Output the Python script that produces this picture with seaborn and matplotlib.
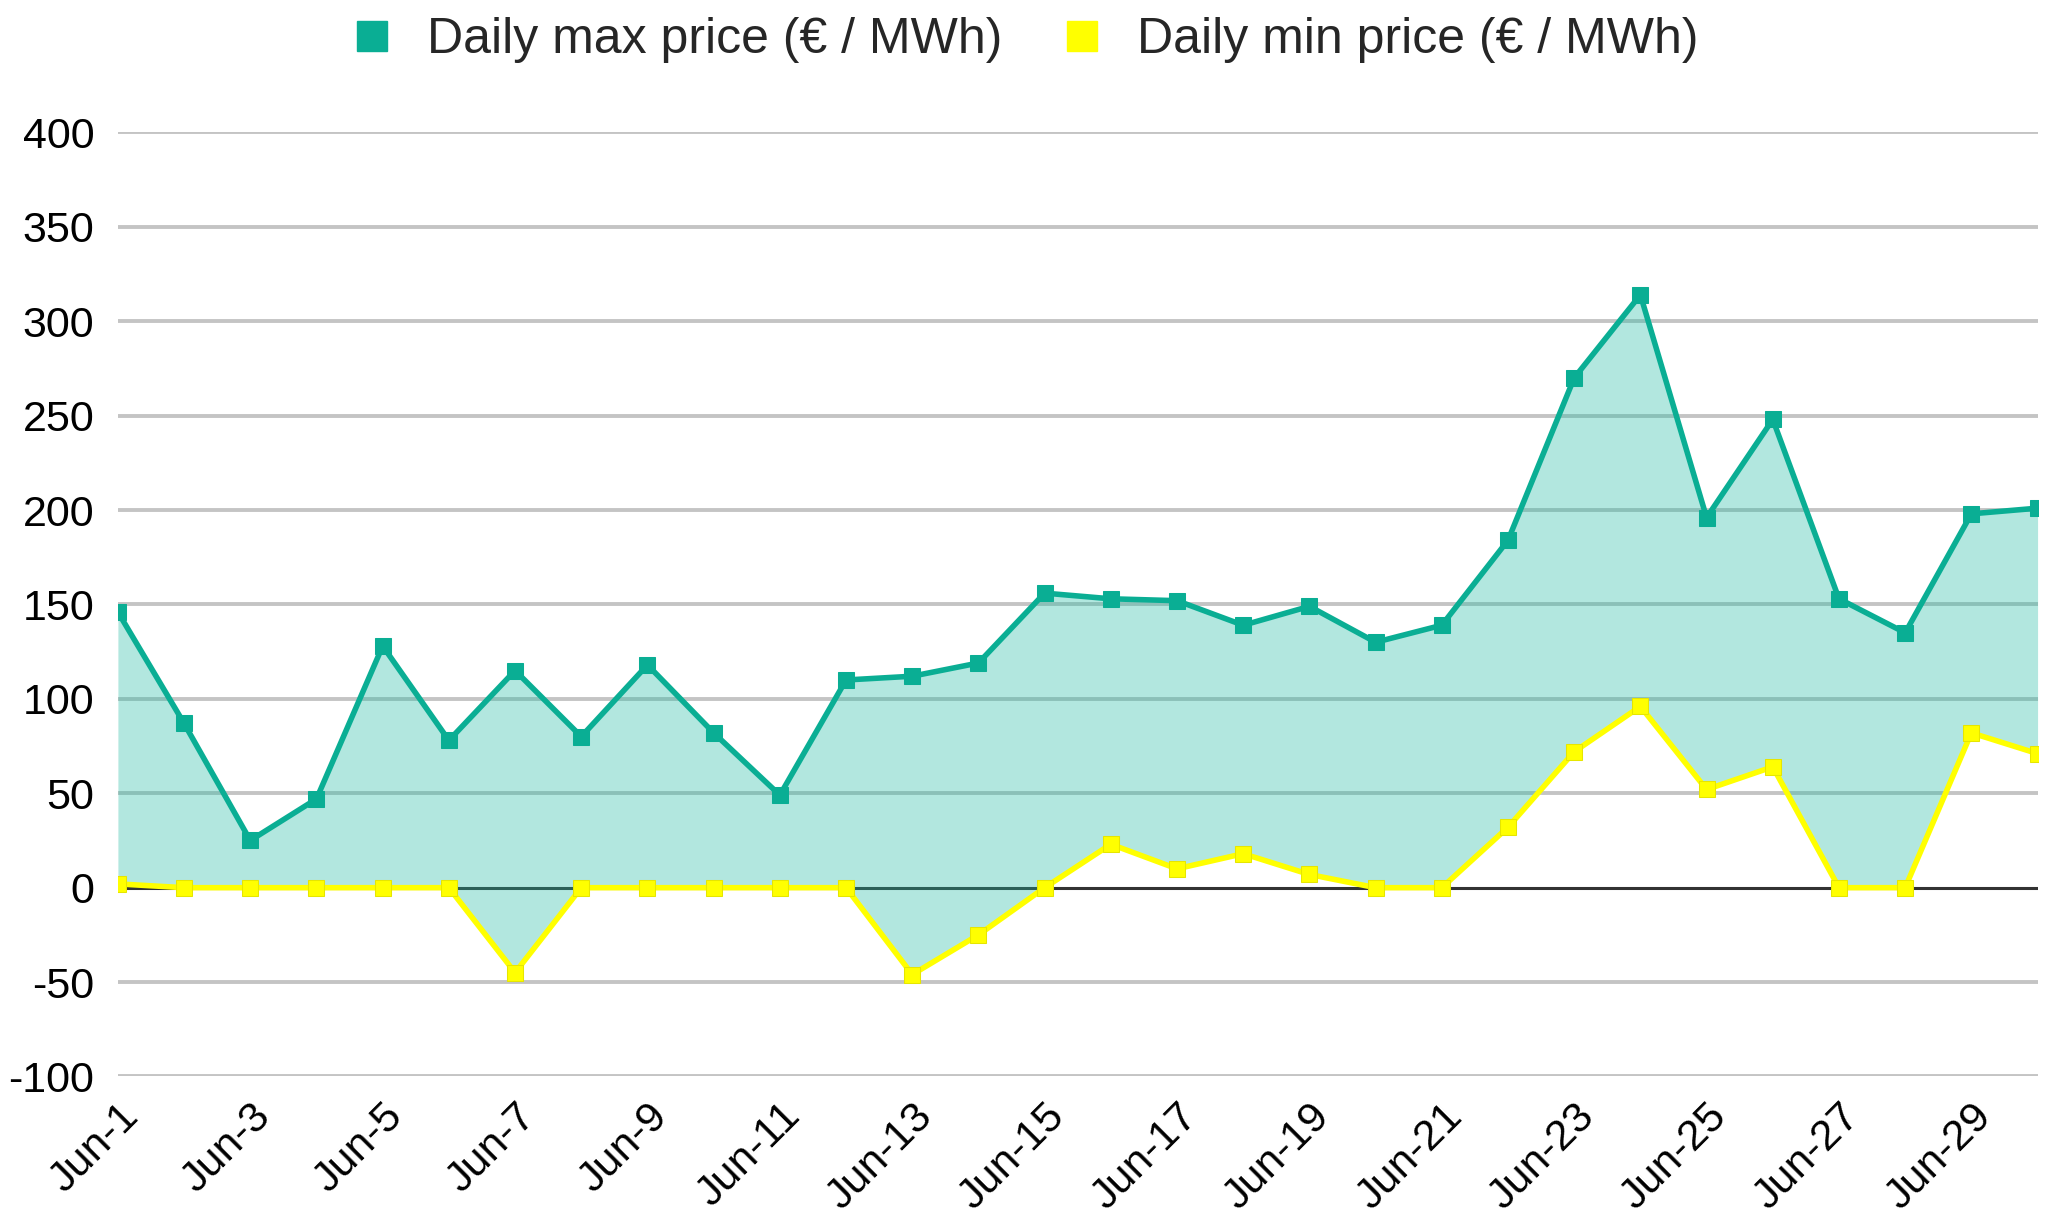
import pandas as pd
import matplotlib.pyplot as plt
import seaborn as sns
from matplotlib.lines import Line2D

# Data
days = list(range(1, 31))
max_price = [146, 87, 25, 47, 128, 78, 115, 80, 118, 82,
             49, 110, 112, 119, 156, 153, 152, 139, 149, 130,
             139, 184, 270, 314, 196, 248, 153, 135, 198, 201]
min_price = [2, 0, 0, 0, 0, 0, -45, 0, 0, 0,
             0, 0, -46, -25, 0, 23, 10, 18, 7, 0,
             0, 32, 72, 96, 52, 64, 0, 0, 82, 71]
day_labels = [f'Jun-{d}' for d in days]
y_ticks = list(range(-100, 401, 50))

teal = '#0aae94'
yellow = '#ffff00'

df = pd.DataFrame({'day': days, 'max': max_price, 'min': min_price})

sns.set_theme(style='white')
plt.rcParams['font.family'] = ['Liberation Sans', 'DejaVu Sans']

fig, ax = plt.subplots(figsize=(20.54, 12.15), dpi=100)
fig.subplots_adjust(left=0.0574, right=0.992, top=0.891, bottom=0.114)

# Gridlines
for v in y_ticks:
    if v == 0:
        ax.axhline(v, color='#333333', linewidth=2.2, zorder=1)
    else:
        ax.axhline(v, color='#c4c4c4', linewidth=2.8, zorder=1)

# Band between min and max
ax.fill_between(df['day'], df['min'], df['max'], color='#1fbaa2', alpha=0.34,
                linewidth=0, zorder=2)

sns.lineplot(data=df, x='day', y='max', ax=ax, color=teal, linewidth=4,
             marker='s', markersize=12, markeredgecolor=teal, zorder=4,
             label='Daily max price (€ / MWh)')
sns.lineplot(data=df, x='day', y='min', ax=ax, color=yellow, linewidth=4,
             marker='s', markersize=12, markeredgecolor='#e6e600', zorder=3,
             label='Daily min price (€ / MWh)')

ax.set_xlim(1, 30)
ax.set_ylim(-100, 400)
ax.set_yticks(y_ticks)
ax.set_yticklabels([str(v) for v in y_ticks])
ax.set_xticks(days[::2])
ax.set_xticklabels(day_labels[::2], rotation=45, ha='right', rotation_mode='anchor')
ax.tick_params(axis='both', length=0, labelsize=31, colors='black')
ax.tick_params(axis='x', pad=14)
ax.tick_params(axis='y', pad=17)
ax.set_xlabel('')
ax.set_ylabel('')
sns.despine(ax=ax, left=True, bottom=True, top=True, right=True)
ax.grid(False)

# Legend with square swatches
handles = [Line2D([], [], linestyle='none', marker='s', markersize=21,
                  color=teal),
           Line2D([], [], linestyle='none', marker='s', markersize=21,
                  color=yellow)]
ax.legend(handles, ['Daily max price (€ / MWh)', 'Daily min price (€ / MWh)'],
          loc='lower center', bbox_to_anchor=(0.47, 1.052), ncol=2,
          frameon=False, fontsize=36, handletextpad=0.5, columnspacing=1.0,
          handlelength=1.2, borderaxespad=0)

plt.savefig('out.png', dpi=100)
